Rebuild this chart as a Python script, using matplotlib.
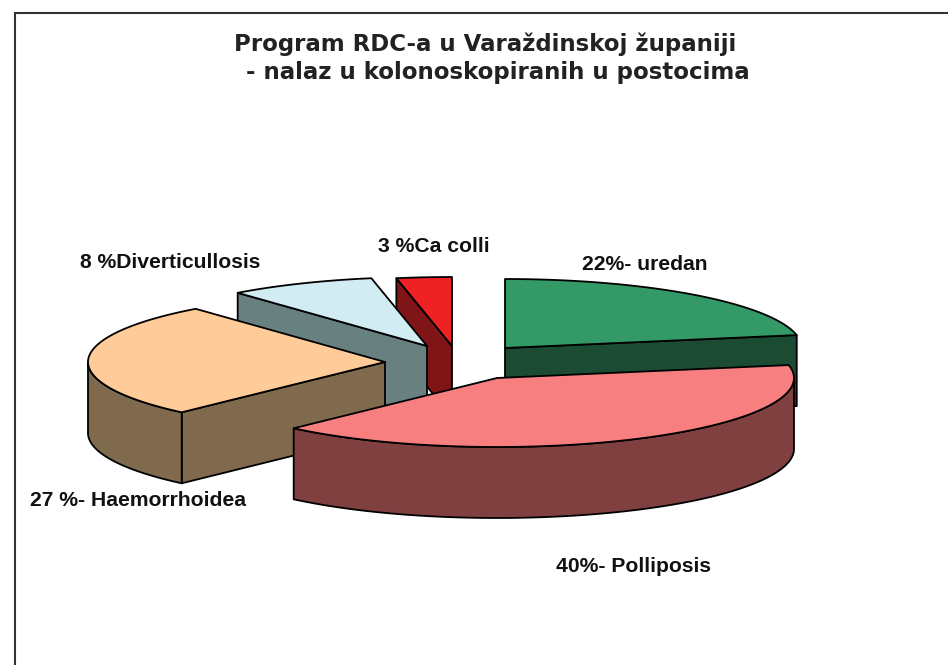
import numpy as np
import matplotlib
matplotlib.use("Agg")
import matplotlib.pyplot as plt

# percentages, clockwise from 12 o'clock
names = ["uredan", "Polliposis", "Haemorrhoidea", "Diverticullosis", "Ca colli"]
values = [22, 40, 27, 8, 3]
labels = ["22%- uredan", "40%- Polliposis", "27 %- Haemorrhoidea", "8 %Diverticullosis", "3 %Ca colli"]
title_lines = ["Program RDC-a u Varaždinskoj županiji", " - nalaz u kolonoskopiranih u postocima"]

top_colors = ["#339966", "#F77F80", "#FFCC99", "#D2ECF4", "#EE2224"]
side_colors = ["#1C4B33", "#804040", "#806A4E", "#688080", "#801517"]

# where each exploded slice has its tip, in pixels
tips = [(505, 348), (497, 378), (385, 362), (427, 346), (452, 346)]
label_pos = [(582, 264), (556, 567), (30, 501), (80, 263), (378, 246)]
draw_order = [4, 3, 0, 2, 1]

rx, ry, depth = 297, 69, 71

fig = plt.figure(figsize=(9.48, 6.65), dpi=100)
ax = fig.add_axes([0, 0, 1, 1])
ax.set_xlim(0, 948)
ax.set_ylim(665, 0)
ax.axis("off")


def rim_point(tip, theta):
    return tip[0] + rx * np.sin(theta), tip[1] - ry * np.cos(theta)


angles = np.radians(np.cumsum([0] + values) * 3.6)

for i in draw_order:
    t1, t2 = angles[i], angles[i + 1]
    tip = tips[i]
    top = side_colors[i]

    # flat cut faces, only those turned towards the viewer
    for t, visible in [(t1, np.sin(t1) < -1e-6), (t2, np.sin(t2) > 1e-6)]:
        if visible:
            px, py = rim_point(tip, t)
            ax.fill([tip[0], px, px, tip[0]], [tip[1], py, py + depth, tip[1] + depth],
                    facecolor=top, edgecolor="black", lw=1.3, joinstyle="round")

    # curved outer wall on the front half
    a = max(t1, np.pi / 2)
    b = min(t2, 3 * np.pi / 2)
    if a < b:
        th = np.linspace(a, b, 80)
        xs, ys = rim_point(tip, th)
        ax.fill(np.r_[xs, xs[::-1]], np.r_[ys, ys[::-1] + depth],
                facecolor=top, edgecolor="black", lw=1.3, joinstyle="round")

    # top face
    th = np.linspace(t1, t2, 80)
    xs, ys = rim_point(tip, th)
    ax.fill(np.r_[tip[0], xs], np.r_[tip[1], ys],
            facecolor=top_colors[i], edgecolor="black", lw=1.3, joinstyle="round")

for text, (x, y) in zip(labels, label_pos):
    ax.text(x, y, text, family="Liberation Sans", weight="bold", fontsize=15.2,
            va="center", ha="left", color="#111111")

ax.text(234, 44, title_lines[0], family="DejaVu Sans", weight="bold", fontsize=16.5,
        va="center", ha="left", color="#222222")
ax.text(238.5, 73, title_lines[1], family="DejaVu Sans", weight="bold", fontsize=16.5,
        va="center", ha="left", color="#222222")

# frame runs off the right and bottom of the picture
ax.plot([948, 15, 15], [13, 13, 665], color="#333333", lw=1.5, solid_joinstyle="miter")

fig.savefig("out.png", dpi=100, facecolor="white")
